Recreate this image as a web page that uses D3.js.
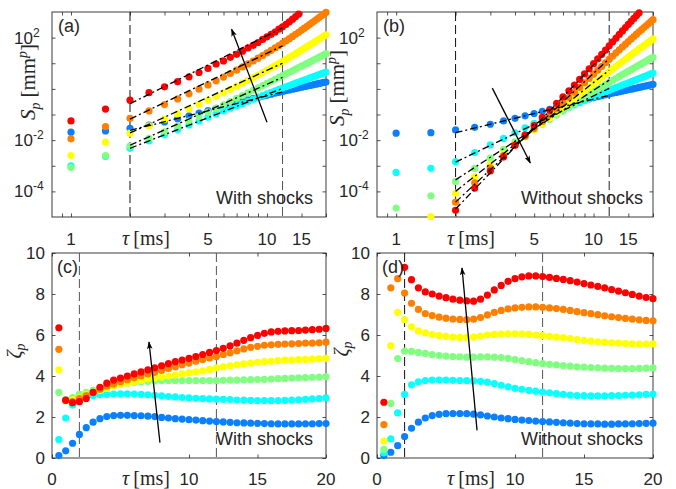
<!DOCTYPE html>
<html>
<head>
<meta charset="utf-8">
<script src="https://cdn.jsdelivr.net/npm/d3@7"></script>
<style>
body { margin: 0; background: #fff; }
svg text { font-family: "Liberation Sans", Arial, sans-serif; fill: #262626; }
svg text.tex { font-family: "Liberation Serif", "DejaVu Serif", serif; fill: #262626; }
</style>
</head>
<body>
<svg id="fig" width="676" height="489"></svg>
<script>
// time lags (ms)
const tauTop = [1, 1.5, 2, 2.5, 3, 3.5, 4, 4.5, 5, 5.5, 6, 6.5, 7, 7.5, 8, 8.5, 9, 9.5, 10, 10.5,
  11, 11.5, 12, 12.5, 13, 13.5, 14, 14.5, 15, 15.5, 16, 16.5, 17, 17.5, 18, 18.5, 19, 19.5, 20];
const tauBot = [0.5, 1, 1.5, 2, 2.5, 3, 3.5, 4, 4.5, 5, 5.5, 6, 6.5, 7, 7.5, 8, 8.5, 9, 9.5, 10, 10.5,
  11, 11.5, 12, 12.5, 13, 13.5, 14, 14.5, 15, 15.5, 16, 16.5, 17, 17.5, 18, 18.5, 19, 19.5, 20];

// p = 1..6
const colors = ["#0a80ff", "#0affff", "#80ff80", "#ffff00", "#ff8000", "#ff0000"];

// (a) log10 S_p, with shocks
const logSWith1 = [-1.69, -1.64, -1.54, -1.416, -1.289, -1.165, -1.049, -0.943, -0.847, -0.760, -0.682, -0.611, -0.546, -0.486, -0.431, -0.380, -0.332, -0.288, -0.246, -0.207, -0.170, -0.135, -0.103, -0.072, -0.042, -0.014, 0.013, 0.039, 0.063, 0.087, 0.109, 0.131, 0.152, 0.173, 0.193, 0.213, 0.232, 0.251, 0.269];
const logSWith2 = [-3.00, -2.64, -2.32, -2.034, -1.795, -1.590, -1.410, -1.251, -1.109, -0.980, -0.863, -0.755, -0.657, -0.566, -0.482, -0.404, -0.330, -0.261, -0.196, -0.135, -0.076, -0.021, 0.032, 0.082, 0.131, 0.177, 0.221, 0.264, 0.305, 0.345, 0.383, 0.421, 0.457, 0.493, 0.527, 0.561, 0.594, 0.627, 0.658];
const logSWith3 = [-3.07, -2.60, -2.23, -1.933, -1.675, -1.451, -1.253, -1.074, -0.911, -0.761, -0.622, -0.493, -0.372, -0.259, -0.153, -0.053, 0.041, 0.130, 0.215, 0.296, 0.372, 0.445, 0.516, 0.583, 0.649, 0.712, 0.772, 0.830, 0.887, 0.942, 0.995, 1.047, 1.097, 1.146, 1.193, 1.240, 1.285, 1.329, 1.373];
const logSWith4 = [-2.60, -2.08, -1.73, -1.442, -1.193, -0.976, -0.781, -0.604, -0.442, -0.291, -0.151, -0.019, 0.105, 0.223, 0.334, 0.440, 0.541, 0.638, 0.731, 0.821, 0.907, 0.991, 1.071, 1.149, 1.226, 1.300, 1.373, 1.443, 1.513, 1.580, 1.645, 1.709, 1.770, 1.830, 1.889, 1.946, 2.002, 2.057, 2.110];
const logSWith5 = [-1.95, -1.47, -1.15, -0.862, -0.613, -0.394, -0.195, -0.013, 0.156, 0.313, 0.461, 0.600, 0.730, 0.855, 0.974, 1.088, 1.197, 1.303, 1.405, 1.504, 1.600, 1.693, 1.784, 1.873, 1.960, 2.045, 2.128, 2.209, 2.289, 2.367, 2.442, 2.516, 2.587, 2.657, 2.725, 2.792, 2.857, 2.920, 2.983];
const logSWith6 = [-1.25, -0.79, -0.44, -0.15, 0.08, 0.28, 0.47, 0.64, 0.80, 0.97, 1.09, 1.23, 1.35, 1.47, 1.60, 1.70, 1.81, 1.93, 2.03, 2.13, 2.22, 2.33, 2.42, 2.52, 2.62, 2.72, 2.82, 2.92, 3.01, 3.10, 3.18, 3.26, 3.34, 3.42, 3.50, 3.58, 3.65, 3.72, 3.79];

// (b) log10 S_p, without shocks
const logSWithout1 = [-1.73, -1.71, -1.60, -1.50, -1.38, -1.25, -1.15, -1.05, -0.96, -0.875, -0.795, -0.722, -0.655, -0.592, -0.534, -0.481, -0.432, -0.387, -0.345, -0.306, -0.269, -0.234, -0.201, -0.170, -0.140, -0.112, -0.085, -0.059, -0.034, -0.010, 0.013, 0.035, 0.057, 0.078, 0.098, 0.118, 0.138, 0.157, 0.176];
const logSWithout2 = [-3.26, -3.10, -2.84, -2.486, -2.187, -1.933, -1.713, -1.519, -1.347, -1.194, -1.057, -0.933, -0.821, -0.718, -0.624, -0.537, -0.456, -0.380, -0.308, -0.240, -0.176, -0.115, -0.057, -0.002, 0.050, 0.100, 0.148, 0.194, 0.238, 0.281, 0.322, 0.362, 0.401, 0.439, 0.476, 0.512, 0.548, 0.583, 0.617];
const logSWithout3 = [-4.65, -4.17, -3.61, -3.106, -2.698, -2.358, -2.067, -1.812, -1.585, -1.380, -1.194, -1.023, -0.865, -0.717, -0.580, -0.451, -0.330, -0.217, -0.111, -0.011, 0.083, 0.172, 0.257, 0.337, 0.414, 0.487, 0.557, 0.624, 0.689, 0.751, 0.812, 0.871, 0.928, 0.983, 1.036, 1.088, 1.138, 1.187, 1.235];
const logSWithout4 = [-5.50, -4.98, -4.07, -3.433, -2.934, -2.525, -2.177, -1.873, -1.603, -1.359, -1.136, -0.930, -0.738, -0.558, -0.389, -0.230, -0.080, 0.063, 0.198, 0.326, 0.448, 0.564, 0.674, 0.779, 0.879, 0.976, 1.069, 1.157, 1.242, 1.324, 1.403, 1.479, 1.553, 1.624, 1.692, 1.759, 1.824, 1.887, 1.948];
const logSWithout5 = [-6.30, -5.40, -4.42, -3.664, -3.080, -2.605, -2.204, -1.856, -1.548, -1.269, -1.013, -0.774, -0.549, -0.336, -0.134, 0.057, 0.238, 0.410, 0.574, 0.730, 0.878, 1.019, 1.154, 1.283, 1.406, 1.524, 1.637, 1.745, 1.849, 1.948, 2.044, 2.136, 2.225, 2.311, 2.394, 2.474, 2.552, 2.627, 2.700];
const logSWithout6 = [-7.00, -6.00, -4.74, -3.871, -3.204, -2.661, -2.197, -1.793, -1.436, -1.116, -0.826, -0.560, -0.313, -0.078, 0.149, 0.369, 0.582, 0.786, 0.982, 1.169, 1.347, 1.517, 1.680, 1.835, 1.983, 2.125, 2.261, 2.391, 2.516, 2.635, 2.750, 2.861, 2.967, 3.069, 3.167, 3.26, 3.35, 3.44, 3.52];

// power-law fits between tau = 2 and 12 ms (log10 S at both ends)
const fitTau = [2, 12];
const fitWithStart = [-1.62, -2.32, -2.20, -1.72, -1.18, -0.58];
const fitWithEnd = [-0.12, 0.02, 0.45, 1.00, 1.68, 2.38];
const fitWithoutStart = [-1.71, -2.86, -3.55, -4.00, -4.42, -4.69];
const fitWithoutEnd = [-0.25, 0.02, 0.34, 0.73, 1.18, 1.57];

// (c) zeta_p, with shocks
const zetaWith1 = [0.12, 0.35, 0.72, 1.15, 1.48, 1.75, 1.92, 2.02, 2.07, 2.08, 2.08, 2.07, 2.06, 2.04, 2.02, 1.98, 1.95, 1.92, 1.90, 1.87, 1.85, 1.82, 1.80, 1.78, 1.76, 1.74, 1.72, 1.71, 1.70, 1.69, 1.68, 1.67, 1.66, 1.66, 1.66, 1.66, 1.67, 1.67, 1.68, 1.68];
const zetaWith2 = [0.90, 1.95, 2.58, 2.90, 3.00, 3.05, 3.08, 3.10, 3.12, 3.13, 3.13, 3.12, 3.10, 3.08, 3.06, 3.03, 3.00, 2.98, 2.95, 2.93, 2.91, 2.90, 2.88, 2.87, 2.86, 2.85, 2.83, 2.82, 2.81, 2.80, 2.80, 2.80, 2.80, 2.81, 2.82, 2.84, 2.86, 2.88, 2.90, 2.93];
const zetaWith3 = [3.20, 2.85, 2.95, 3.10, 3.20, 3.30, 3.40, 3.48, 3.55, 3.60, 3.65, 3.68, 3.72, 3.74, 3.76, 3.77, 3.78, 3.78, 3.78, 3.78, 3.78, 3.78, 3.78, 3.78, 3.79, 3.80, 3.80, 3.81, 3.82, 3.83, 3.84, 3.85, 3.87, 3.88, 3.90, 3.91, 3.92, 3.94, 3.95, 3.97];
const zetaWith4 = [4.30, 2.80, 2.85, 2.95, 3.10, 3.20, 3.30, 3.40, 3.50, 3.58, 3.65, 3.72, 3.78, 3.85, 3.90, 3.95, 4.00, 4.05, 4.10, 4.15, 4.20, 4.25, 4.32, 4.40, 4.45, 4.50, 4.55, 4.59, 4.63, 4.67, 4.70, 4.72, 4.75, 4.77, 4.78, 4.80, 4.81, 4.82, 4.84, 4.86];
const zetaWith5 = [5.30, 2.80, 2.75, 2.90, 3.05, 3.20, 3.35, 3.50, 3.60, 3.72, 3.82, 3.92, 4.00, 4.10, 4.18, 4.27, 4.37, 4.45, 4.55, 4.63, 4.72, 4.80, 4.88, 4.95, 5.05, 5.13, 5.23, 5.32, 5.40, 5.45, 5.50, 5.52, 5.55, 5.56, 5.57, 5.58, 5.60, 5.60, 5.62, 5.65];
const zetaWith6 = [6.35, 2.82, 2.70, 2.75, 2.90, 3.20, 3.45, 3.65, 3.80, 3.90, 4.00, 4.10, 4.20, 4.30, 4.40, 4.50, 4.60, 4.70, 4.78, 4.86, 4.95, 5.05, 5.15, 5.24, 5.35, 5.47, 5.60, 5.74, 5.87, 5.98, 6.08, 6.15, 6.18, 6.20, 6.21, 6.22, 6.24, 6.26, 6.28, 6.32];

// (d) zeta_p, without shocks
const zetaWithout1 = [0.12, 0.28, 0.60, 1.05, 1.45, 1.75, 1.95, 2.07, 2.13, 2.16, 2.17, 2.17, 2.16, 2.14, 2.10, 2.05, 2.00, 1.95, 1.92, 1.88, 1.85, 1.83, 1.80, 1.78, 1.76, 1.74, 1.72, 1.70, 1.68, 1.67, 1.66, 1.66, 1.65, 1.65, 1.66, 1.66, 1.67, 1.68, 1.69, 1.70];
const zetaWithout2 = [0.25, 0.93, 2.20, 3.10, 3.57, 3.72, 3.78, 3.80, 3.80, 3.80, 3.79, 3.78, 3.77, 3.76, 3.74, 3.70, 3.63, 3.55, 3.47, 3.40, 3.35, 3.30, 3.26, 3.22, 3.18, 3.14, 3.10, 3.07, 3.05, 3.04, 3.03, 3.03, 3.03, 3.04, 3.05, 3.06, 3.07, 3.08, 3.10, 3.12];
const zetaWithout3 = [0.42, 2.66, 4.85, 5.22, 5.20, 5.15, 5.10, 5.05, 5.00, 4.97, 4.95, 4.93, 4.92, 4.92, 4.93, 4.93, 4.92, 4.90, 4.86, 4.80, 4.75, 4.70, 4.65, 4.60, 4.57, 4.54, 4.51, 4.48, 4.45, 4.43, 4.41, 4.40, 4.38, 4.37, 4.36, 4.36, 4.36, 4.37, 4.38, 4.40];
const zetaWithout4 = [0.83, 5.48, 7.10, 6.75, 6.40, 6.20, 6.10, 6.02, 5.97, 5.93, 5.90, 5.88, 5.88, 5.90, 5.95, 6.00, 6.03, 6.05, 6.06, 6.06, 6.05, 6.03, 6.00, 5.97, 5.93, 5.90, 5.87, 5.83, 5.78, 5.74, 5.70, 5.67, 5.64, 5.62, 5.60, 5.58, 5.57, 5.56, 5.56, 5.57];
const zetaWithout5 = [1.63, 8.30, 8.75, 8.05, 7.55, 7.25, 7.05, 6.95, 6.87, 6.82, 6.78, 6.76, 6.75, 6.77, 6.85, 6.98, 7.10, 7.20, 7.27, 7.32, 7.35, 7.37, 7.37, 7.35, 7.32, 7.29, 7.25, 7.20, 7.14, 7.09, 7.04, 6.99, 6.94, 6.89, 6.85, 6.81, 6.77, 6.74, 6.71, 6.69];
const zetaWithout6 = [2.72, 10.60, 10.30, 9.30, 8.70, 8.30, 8.10, 8.00, 7.90, 7.82, 7.75, 7.70, 7.66, 7.65, 7.75, 7.95, 8.20, 8.42, 8.62, 8.75, 8.84, 8.88, 8.88, 8.85, 8.81, 8.76, 8.71, 8.65, 8.58, 8.51, 8.44, 8.37, 8.30, 8.22, 8.14, 8.06, 7.98, 7.90, 7.83, 7.77];

const svg = d3.select("#fig");

const panels = [
  { tag: "(a)", box: [52, 12, 274, 205], log: true, tau: tauTop,
    series: [logSWith1, logSWith2, logSWith3, logSWith4, logSWith5, logSWith6],
    fitStart: fitWithStart, fitEnd: fitWithEnd, note: "With shocks",
    arrow: [[10.0, -1.3], [6.6, 2.33]], dash: ["#111", "#555"], ylab: [-17, 70] },
  { tag: "(b)", box: [377, 12, 276, 205], log: true, tau: tauTop,
    series: [logSWithout1, logSWithout2, logSWithout3, logSWithout4, logSWithout5, logSWithout6],
    fitStart: fitWithoutStart, fitEnd: fitWithoutEnd, note: "Without shocks",
    arrow: [[3.07, 0.03], [4.78, -2.89]], dash: ["#111", "#222"], ylab: [-33, 76] },
  { tag: "(c)", box: [52, 253, 274, 205], log: false, tau: tauBot,
    series: [zetaWith1, zetaWith2, zetaWith3, zetaWith4, zetaWith5, zetaWith6],
    note: "With shocks", arrow: [[7.88, 0.75], [7.08, 5.66]], dash: ["#555", "#555"], ylab: [-31, 98] },
  { tag: "(d)", box: [377, 253, 276, 205], log: false, tau: tauBot,
    series: [zetaWithout1, zetaWithout2, zetaWithout3, zetaWithout4, zetaWithout5, zetaWithout6],
    note: "Without shocks", arrow: [[7.25, 1.35], [6.16, 9.27]], dash: ["#111", "#555"], ylab: [-29, 96] }
];

svg.append("defs").append("marker")
    .attr("id", "head")
    .attr("viewBox", "0 0 10 10")
    .attr("refX", 9).attr("refY", 5)
    .attr("markerWidth", 8).attr("markerHeight", 8)
    .attr("markerUnits", "userSpaceOnUse")
    .attr("orient", "auto")
  .append("path")
    .attr("d", "M0,1.5 L10,5 L0,8.5 L2.5,5 Z")
    .attr("fill", "#000");

panels.forEach(drawPanel);

function drawPanel(p) {
  const [L, T, W, H] = p.box;
  const g = svg.append("g").attr("transform", `translate(${L},${T})`);

  const x = p.log
    ? d3.scaleLog().domain([0.8, 20]).range([0, W])
    : d3.scaleLinear().domain([0, 20]).range([0, W]);
  const y = p.log
    ? d3.scaleLog().domain([1e-5, 1e3]).range([H, 0])
    : d3.scaleLinear().domain([0, 10]).range([H, 0]);
  const val = v => p.log ? Math.pow(10, v) : v;

  const xTicks = p.log ? [0.9, 1, 2, 3, 4, 5, 6, 7, 8, 9, 10, 15, 20] : [0, 10, 15, 20];
  const xLabels = p.log ? [1, 5, 10, 15] : [0, 10, 15, 20];
  const yTicks = p.log ? d3.range(-4, 3).map(e => Math.pow(10, e)) : [0, 2, 4, 6, 8, 10];

  // ticks on all four sides, pointing in
  g.append("g").attr("transform", `translate(0,${H})`)
    .call(d3.axisBottom(x).tickValues(xTicks).tickSize(-3.5).tickFormat(""));
  g.append("g")
    .call(d3.axisTop(x).tickValues(xTicks).tickSize(-3.5).tickFormat(""));
  g.append("g")
    .call(d3.axisLeft(y).tickValues(yTicks).tickSize(-3.5).tickFormat(""));
  g.append("g").attr("transform", `translate(${W},0)`)
    .call(d3.axisRight(y).tickValues(yTicks).tickSize(-3.5).tickFormat(""));
  g.selectAll(".domain").remove();
  g.selectAll(".tick line").attr("stroke", "#262626").attr("stroke-width", 0.8);

  g.append("rect")
    .attr("width", W).attr("height", H)
    .attr("fill", "none").attr("stroke", "#262626").attr("stroke-width", 0.9);

  // tick labels
  g.selectAll(".xl").data(xLabels).join("text")
    .attr("x", d => x(d)).attr("y", H + (p.log ? 28 : 27))
    .attr("text-anchor", "middle").attr("font-size", 17)
    .text(d => d);

  if (p.log) {
    const yl = g.selectAll(".yl").data([-4, -2, 2]).join("text")
      .attr("x", -38).attr("y", d => y(Math.pow(10, d)) + 6)
      .attr("font-size", 17);
    yl.append("tspan").text("10");
    yl.append("tspan").attr("dy", -7).attr("font-size", 12).text(d => d < 0 ? "-" + (-d) : d);
  } else {
    g.selectAll(".yl").data(yTicks).join("text")
      .attr("x", -7).attr("y", d => y(d) + 6)
      .attr("text-anchor", "end").attr("font-size", 17)
      .text(d => d);
  }

  // axis titles
  const xt = g.append("text").attr("class", "tex")
    .attr("x", 94).attr("y", H + (p.log ? 28 : 27))
    .attr("text-anchor", "middle").attr("font-size", 20);
  xt.append("tspan").attr("font-style", "italic").text("τ");
  xt.append("tspan").attr("dx", 4).text("[ms]");

  const yt = g.append("text").attr("class", "tex")
    .attr("transform", `translate(${p.ylab[0]},${p.ylab[1]}) rotate(-90)`)
    .attr("text-anchor", "middle").attr("font-size", 21);
  if (p.log) {
    yt.append("tspan").attr("font-style", "italic").text("S");
    yt.append("tspan").attr("font-style", "italic").attr("font-size", 14).attr("dy", 5).text("p");
    yt.append("tspan").attr("dy", -5).attr("dx", 5).text("[mm");
    yt.append("tspan").attr("font-style", "italic").attr("font-size", 14).attr("dy", -8).text("p");
    yt.append("tspan").attr("dy", 8).text("]");
  } else {
    yt.attr("font-size", 20);
    yt.append("tspan").attr("font-style", "italic").text("ζ");
    yt.append("tspan").attr("font-style", "italic").attr("font-size", 14).attr("dy", 4).text("p");
  }

  // dashed markers at tau = 2 and 12 ms
  g.selectAll(".vd").data([2, 12]).join("line")
    .attr("x1", d => x(d)).attr("x2", d => x(d))
    .attr("y1", 0).attr("y2", H)
    .attr("stroke", (d, i) => p.dash[i]).attr("stroke-width", 1)
    .attr("stroke-dasharray", "9,4");

  // data points, p = 1 drawn first
  const [y0, y1] = y.domain();
  p.series.forEach((s, k) => {
    const pts = p.tau.map((t, i) => ({ t, v: val(s[i]) }))
      .filter(d => d.v >= y0 && d.v <= y1);
    g.append("g").selectAll("circle").data(pts).join("circle")
      .attr("cx", d => x(d.t)).attr("cy", d => y(d.v))
      .attr("r", 3.6).attr("fill", colors[k]);
  });

  // power-law fits
  if (p.fitStart) {
    const line = d3.line().x(d => x(d[0])).y(d => y(d[1]));
    p.fitStart.forEach((s, k) => {
      g.append("path")
        .attr("d", line([[fitTau[0], val(s)], [fitTau[1], val(p.fitEnd[k])]]))
        .attr("fill", "none").attr("stroke", "#000").attr("stroke-width", 1.3)
        .attr("stroke-dasharray", "7,3,2,3");
    });
  }

  // trend arrow
  const [a0, a1] = p.arrow;
  g.append("line")
    .attr("x1", x(a0[0])).attr("y1", y(val(a0[1])))
    .attr("x2", x(a1[0])).attr("y2", y(val(a1[1])))
    .attr("stroke", "#000").attr("stroke-width", 1.3)
    .attr("marker-end", "url(#head)");

  g.append("text")
    .attr("x", W - (p.note === "With shocks" ? 13 : 10)).attr("y", H - 13)
    .attr("text-anchor", "end").attr("font-size", 18).attr("fill", "#000")
    .text(p.note);

  g.append("text")
    .attr("x", p.log ? 6 : 5).attr("y", 20)
    .attr("font-size", 18).attr("fill", "#000")
    .text(p.tag);
}
</script>
</body>
</html>
